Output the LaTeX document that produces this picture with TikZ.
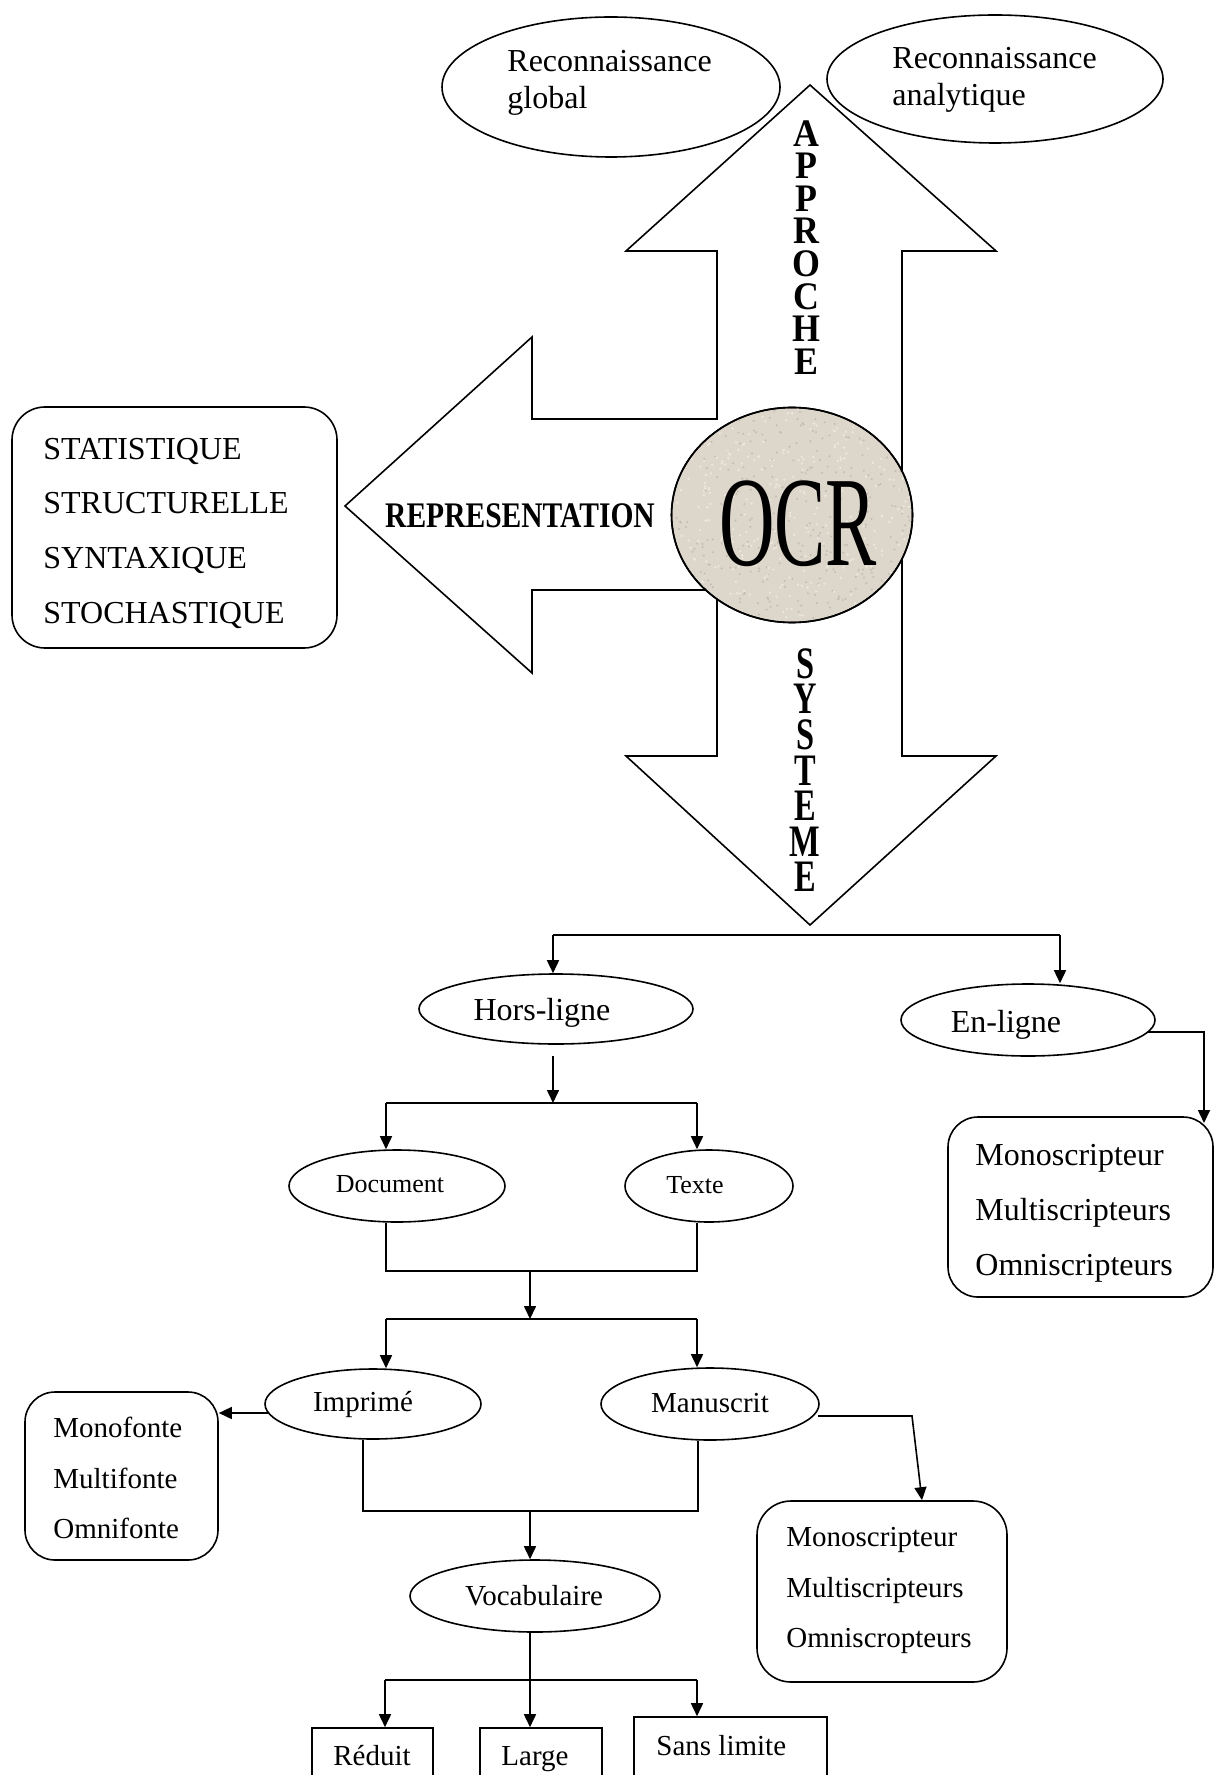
\documentclass[tikz,border=0pt]{standalone}
\usepackage{fontspec}
\setmainfont{Liberation Serif}
\newfontfamily\artfont[FakeStretch=0.82]{Liberation Serif}
\newfontfamily\apfont[FakeStretch=0.92]{Liberation Serif}
\newfontfamily\sysfont[FakeStretch=0.72]{Liberation Serif}
\newfontfamily\ocrfont[FakeStretch=0.6]{Liberation Serif}
\usetikzlibrary{arrows.meta,shapes.geometric}
\definecolor{ocrbg}{RGB}{221,214,203}
\definecolor{ocrdark}{RGB}{196,188,176}
\definecolor{ocrlight}{RGB}{236,231,223}

\begin{document}
\begin{tikzpicture}[x=0.5pt,y=-0.5pt,
  outline/.style={line width=0.8pt, line join=miter},
  ell/.style={draw, ellipse, line width=0.8pt, inner sep=0pt},
  rbox/.style={draw, rectangle, line width=0.8pt, inner sep=0pt},
  sqbox/.style={draw, rectangle, line width=0.8pt, inner sep=0pt},
  arr/.style={line width=0.8pt, -{Triangle[length=6.5pt,width=6pt]}},
  conn/.style={line width=0.8pt},
  big/.style={inner sep=0pt, font=\fontsize{16}{19}\selectfont},
  mid/.style={inner sep=0pt, font=\fontsize{14.5}{17}\selectfont},
  small/.style={inner sep=0pt, font=\fontsize{13}{15}\selectfont},
]
\fill[white] (0,0) rectangle (1221,1775);
\useasboundingbox (0,0) rectangle (1221,1775);
\clip (0,0) rectangle (1221,1775);

% --- approaches (top) ---
\node[ell, minimum width=169pt, minimum height=70pt] (glob) at (611,87) {};
\node[big, anchor=base west] (globA) at (507,72) {Reconnaissance};
\node[big, anchor=base west] (globB) at (507,109) {global};

\node[ell, minimum width=168pt, minimum height=64pt] (anal) at (995,79) {};
\node[big, anchor=base west] (analA) at (892,69) {Reconnaissance};
\node[big, anchor=base west] (analB) at (892,106) {analytique};

% --- the three big block arrows around OCR ---
\draw[outline] (810,85) -- (996,251) -- (902,251) -- (902,756) -- (996,756)
  -- (810,925) -- (626,756) -- (717,756) -- (717,590) -- (532,590)
  -- (532,673) -- (345,506) -- (532,337) -- (532,419) -- (717,419)
  -- (717,251) -- (626,251) -- cycle;

\node[ell, fill=ocrbg, minimum width=120.5pt, minimum height=107.5pt] (ocr) at (792,515) {};
% speckled paper texture of the disc
\begin{scope}
  \clip (792,515) ellipse [x radius=119.5, y radius=106.5];
  \pgfmathsetseed{11}
  \foreach \i in {1,...,350} {
    \pgfmathsetmacro\px{792+121*rand}
    \pgfmathsetmacro\py{515+108*rand}
    \fill[ocrdark] (\px,\py) circle [radius=1.1];
  }
  \foreach \i in {1,...,350} {
    \pgfmathsetmacro\px{792+121*rand}
    \pgfmathsetmacro\py{515+108*rand}
    \fill[ocrlight] (\px,\py) circle [radius=1.3];
  }
\end{scope}
\draw[line width=0.8pt] (ocr.center) ellipse [x radius=120.5, y radius=107.5];
\node[inner sep=0pt, anchor=base, font=\ocrfont\fontsize{64}{64}\selectfont] (ocrT) at (798,565) {OCR};

\node[inner sep=0pt, anchor=base, font=\artfont\bfseries\fontsize{18}{20}\selectfont] (repr) at (520,527) {REPRESENTATION};
\node[inner sep=0pt, anchor=north, align=center, font=\apfont\bfseries\fontsize{19.5}{16.3}\selectfont] (appr) at (806,120) {A\\P\\P\\R\\O\\C\\H\\E};
\node[inner sep=0pt, anchor=north, align=center, font=\sysfont\bfseries\fontsize{22.5}{17.8}\selectfont] (sys) at (805,648) {S\\Y\\S\\T\\E\\M\\E};

% --- representation kinds ---
\node[rbox, rounded corners=16.5pt, minimum width=162.5pt, minimum height=120.5pt] (repBox) at (174.5,527.5) {};
\node[big, anchor=base west] (rep1) at (43,459) {STATISTIQUE};
\node[big, anchor=base west] (rep2) at (43,513) {STRUCTURELLE};
\node[big, anchor=base west] (rep3) at (43,568) {SYNTAXIQUE};
\node[big, anchor=base west] (rep4) at (43,623) {STOCHASTIQUE};

% --- system tree ---
\node[ell, minimum width=137pt, minimum height=35pt] (hors) at (556,1009) {};
\node[big, anchor=base] (horsT) at (542,1020) {Hors-ligne};
\node[ell, minimum width=127pt, minimum height=36pt] (en) at (1028,1020) {};
\node[big, anchor=base] (enT) at (1006,1032) {En-ligne};

\coordinate (sysL) at (553,935);
\coordinate (sysR) at (1060,935);
\draw[conn] (sysL) -- (sysR);
\draw[arr] (sysL) -- (sysL |- hors.north);
\draw[arr] (sysR) -- (sysR |- en.north);

\node[rbox, rounded corners=15pt, minimum width=132.5pt, minimum height=90pt] (enBox) at (1080.5,1207) {};
\node[big, anchor=base west] (en1) at (975,1165) {Monoscripteur};
\node[big, anchor=base west] (en2) at (975,1220) {Multiscripteurs};
\node[big, anchor=base west] (en3) at (975,1275) {Omniscripteurs};

\coordinate (enOut) at (1148,1032);
\coordinate (enBend) at (1204,1032);
\coordinate (enIn) at (1204,1123);
\draw[arr] (enOut) -- (enBend) -- (enIn);

\node[ell, minimum width=108pt, minimum height=36pt] (doc) at (397,1186) {};
\node[small, anchor=base] (docT) at (390,1192) {Document};
\node[ell, minimum width=84pt, minimum height=36pt] (txt) at (709,1186) {};
\node[small, anchor=base] (txtT) at (695,1193) {Texte};

\coordinate (horsOut) at (553,1056);
\coordinate (hj) at (553,1103);
\coordinate (hjL) at (386,1103);
\coordinate (hjR) at (697,1103);
\draw[arr] (horsOut) -- (hj);
\draw[conn] (hjL) -- (hjR);
\draw[arr] (hjL) -- (hjL |- doc.north);
\draw[arr] (hjR) -- (hjR |- txt.north);

\node[ell, minimum width=108pt, minimum height=35pt] (imp) at (373,1404) {};
\node[mid, anchor=base] (impT) at (363,1411) {Imprimé};
\node[ell, minimum width=109pt, minimum height=36pt] (man) at (710,1404) {};
\node[mid, anchor=base] (manT) at (710,1412) {Manuscrit};

\coordinate (dj) at (530,1271);
\coordinate (ij) at (530,1319);
\coordinate (ijL) at (386,1319);
\coordinate (ijR) at (697,1319);
\draw[conn] (doc.south -| hjL) |- (dj) -| (txt.south -| hjR);
\draw[arr] (dj) -- (ij);
\draw[conn] (ijL) -- (ijR);
\draw[arr] (ijL) -- (ijL |- imp.north);
\draw[arr] (ijR) -- (ijR |- man.north);

\node[rbox, rounded corners=15pt, minimum width=96.5pt, minimum height=84pt] (monoBox) at (121.5,1476) {};
\node[mid, anchor=base west] (mono1) at (53,1437) {Monofonte};
\node[mid, anchor=base west] (mono2) at (53,1488) {Multifonte};
\node[mid, anchor=base west] (mono3) at (53,1538) {Omnifonte};

\coordinate (impOut) at (268,1413);
\draw[arr] (impOut) -- (impOut -| monoBox.east);

\node[rbox, rounded corners=17pt, minimum width=125pt, minimum height=90.5pt] (manBox) at (882,1591.5) {};
\node[mid, anchor=base west] (man1) at (786,1546) {Monoscripteur};
\node[mid, anchor=base west] (man2) at (786,1597) {Multiscripteurs};
\node[mid, anchor=base west] (man3) at (786,1647) {Omniscropteurs};

\coordinate (manOut) at (818,1416);
\coordinate (manBend) at (912,1416);
\draw[arr] (manOut) -- (manBend) -- ([xshift=20pt]manBox.north);

\node[ell, minimum width=125pt, minimum height=36pt] (voc) at (535,1596) {};
\node[mid, anchor=base] (vocT) at (534,1605) {Vocabulaire};

\coordinate (vj) at (530,1511);
\draw[conn] ([xshift=-5pt]imp.south) |- (vj) -| ([xshift=-6pt]man.south);
\draw[arr] (vj) -- (vj |- voc.north);

% --- vocabulary sizes ---
\node[sqbox, minimum width=60.5pt, minimum height=41pt] (red) at (372.5,1769) {};
\node[mid, anchor=base] (redT) at (372,1765) {Réduit};
\node[sqbox, minimum width=61pt, minimum height=41pt] (lar) at (541,1769) {};
\node[mid, anchor=base] (larT) at (535,1765) {Large};
\node[sqbox, minimum width=96.5pt, minimum height=46.5pt] (sans) at (730.5,1763.5) {};
\node[mid, anchor=base west] (sansT) at (656,1755) {Sans limite};

\coordinate (bjL) at (385,1680);
\coordinate (bjR) at (697,1680);
\draw[arr] (voc.south -| vj) -- (vj |- lar.north);
\draw[conn] (bjL) -- (bjR);
\draw[arr] (bjL) -- (bjL |- red.north);
\draw[arr] (bjR) -- (bjR |- sans.north);
\end{tikzpicture}
\end{document}
